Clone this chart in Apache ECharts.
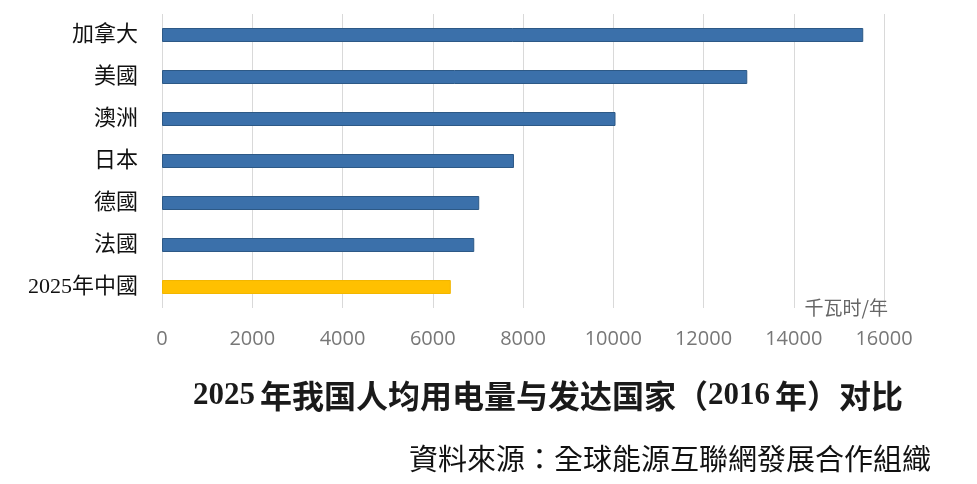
<!DOCTYPE html>
<html>
<head>
<meta charset="utf-8">
<script src="https://cdn.jsdelivr.net/npm/echarts@6/dist/echarts.min.js"></script>
<style>
html, body { margin: 0; padding: 0; background: #fff; }
#main { width: 977px; height: 484px; }
</style>
</head>
<body>
<div id="main"></div>
<script>
var categories = ['2025年中國', '法國', '德國', '日本', '澳洲', '美國', '加拿大'];
var values = [6400, 6920, 7030, 7800, 10050, 12970, 15540];
var highlight = '2025年中國';

var myChart = echarts.init(document.getElementById('main'));

var serifCjk = '"Liberation Serif", "Noto Sans CJK TC"';

var option = {
	backgroundColor: '#fff',
	animation: false,
	title: [
		{
			// 标题：数字用衬线粗体，汉字用黑体
			text: '{n|2025} {c|年我国人均用电量与发达国家（}{n|2016} {c|年）对比}',
			left: 188,
			top: 375,
			textStyle: {
				rich: {
					n: {
						fontFamily: 'Liberation Serif',
						fontWeight: 'bold',
						fontSize: 31,
						color: '#1a1a1a'
					},
					c: {
						fontFamily: 'Noto Sans CJK SC',
						fontWeight: 'bold',
						fontSize: 32,
						color: '#1a1a1a'
					}
				}
			}
		},
		{
			text: '資料來源：全球能源互聯網發展合作組織',
			right: 41,
			top: 443,
			textStyle: {
				fontFamily: serifCjk,
				fontWeight: 'normal',
				fontSize: 29,
				color: '#111'
			}
		}
	],
	grid: {
		left: 162,
		right: 93,
		top: 14,
		bottom: 176
	},
	xAxis: {
		type: 'value',
		min: 0,
		max: 16000,
		interval: 2000,
		name: '千瓦时/年',
		nameLocation: 'end',
		nameGap: 4,
		nameTextStyle: {
			color: '#666',
			fontSize: 19,
			fontWeight: 'normal',
			fontFamily: 'Noto Sans CJK SC',
			align: 'right',
			verticalAlign: 'middle',
			padding: [4, 0, 0, 0]
		},
		axisLine: {show: false},
		axisTick: {show: false},
		axisLabel: {
			margin: 21,
			color: '#777',
			fontSize: 20,
			fontFamily: 'Open Sans',
			formatter: function (v) { return String(v); }
		},
		splitLine: {
			show: true,
			lineStyle: {color: '#d9d9d9', width: 1}
		}
	},
	yAxis: {
		type: 'category',
		data: categories,
		axisLine: {show: false},
		axisTick: {show: false},
		axisLabel: {
			margin: 24,
			color: '#111',
			fontSize: 22,
			fontFamily: serifCjk
		}
	},
	series: [
		{
			type: 'bar',
			barWidth: 14,
			data: values.map(function (v, i) {
				var isCn = categories[i] === highlight;
				return {
					value: v,
					itemStyle: {
						color: isCn ? '#ffc000' : '#3b70aa',
						borderColor: isCn ? '#f2b600' : '#2d5986',
						borderWidth: 1
					}
				};
			})
		}
	]
};

myChart.setOption(option);
</script>
</body>
</html>
